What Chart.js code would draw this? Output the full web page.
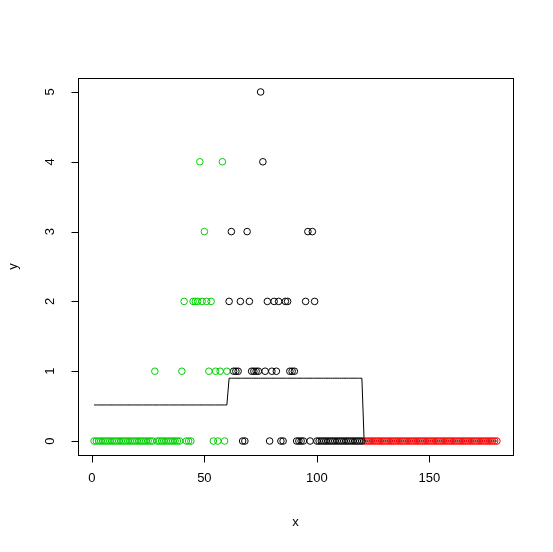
<!DOCTYPE html>
<html>
<head>
<meta charset="utf-8">
<script src="https://cdn.jsdelivr.net/npm/chart.js@4.4.1/dist/chart.umd.min.js"></script>
<style>
  body { margin: 0; background: #fff; }
  #wrap { width: 553px; height: 552px; }
</style>
</head>
<body>
<div id="wrap"><canvas id="plot"></canvas></div>
<script>
// counts per x, x = 1..180, three groups of 60
var greenY = [0,0,0,0,0,0,0,0,0,0, 0,0,0,0,0,0,0,0,0,0, 0,0,0,0,0,0,0,1,0,0,
              0,0,0,0,0,0,0,0,0,1, 2,0,0,0,2,2,2,4,2,3, 2,1,2,0,1,0,1,4,0,1];
var blackY = [2,3,1,1,1,2,0,0,3,2, 1,1,1,1,5,4,1,2,0,1, 2,1,2,0,0,2,2,1,1,1,
              0,0,0,0,2,3,0,3,2,0, 0,0,0,0,0,0,0,0,0,0, 0,0,0,0,0,0,0,0,0,0];
var redY   = [0,0,0,0,0,0,0,0,0,0, 0,0,0,0,0,0,0,0,0,0, 0,0,0,0,0,0,0,0,0,0,
              0,0,0,0,0,0,0,0,0,0, 0,0,0,0,0,0,0,0,0,0, 0,0,0,0,0,0,0,0,0,0];
var xTicks = [0, 50, 100, 150];
var yTicks = [0, 1, 2, 3, 4, 5];

function pts(ys, start) {
  return ys.map(function (y, i) { return { x: start + i, y: y }; });
}
function mean(a) {
  return a.reduce(function (s, v) { return s + v; }, 0) / a.length;
}

// fitted line: group means
var fit = [];
[[greenY, 1], [blackY, 61], [redY, 121]].forEach(function (g) {
  var m = mean(g[0]);
  g[0].forEach(function (_, i) { fit.push({ x: g[1] + i, y: m }); });
});

var font = '13px "Liberation Sans", Arial, sans-serif';

var rAxes = {
  id: 'rAxes',
  afterDraw: function (chart) {
    var c = chart.ctx, a = chart.chartArea;
    var sx = chart.scales.x, sy = chart.scales.y;
    c.save();
    c.strokeStyle = '#000';
    c.fillStyle = '#000';
    c.lineWidth = 1;
    c.strokeRect(Math.round(a.left) + 0.5, Math.round(a.top) + 0.5,
                 Math.round(a.right - a.left), Math.round(a.bottom - a.top));
    c.font = font;

    // x axis
    var yb = Math.round(a.bottom) + 0.5;
    c.beginPath();
    c.moveTo(sx.getPixelForValue(xTicks[0]), yb);
    c.lineTo(sx.getPixelForValue(xTicks[xTicks.length - 1]), yb);
    xTicks.forEach(function (t) {
      var p = Math.round(sx.getPixelForValue(t)) + 0.5;
      c.moveTo(p, yb);
      c.lineTo(p, yb + 7);
    });
    c.stroke();
    c.textAlign = 'center';
    c.textBaseline = 'middle';
    xTicks.forEach(function (t) {
      c.fillText(String(t), sx.getPixelForValue(t), 478);
    });
    c.fillText('x', (a.left + a.right) / 2, 522);

    // y axis
    var xl = Math.round(a.left) + 0.5;
    c.beginPath();
    c.moveTo(xl, sy.getPixelForValue(yTicks[0]));
    c.lineTo(xl, sy.getPixelForValue(yTicks[yTicks.length - 1]));
    yTicks.forEach(function (t) {
      var p = Math.round(sy.getPixelForValue(t)) + 0.5;
      c.moveTo(xl, p);
      c.lineTo(xl - 7, p);
    });
    c.stroke();
    yTicks.forEach(function (t) {
      c.save();
      c.translate(50, sy.getPixelForValue(t));
      c.rotate(-Math.PI / 2);
      c.fillText(String(t), 0, 0);
      c.restore();
    });
    c.save();
    c.translate(13, (a.top + a.bottom) / 2);
    c.rotate(-Math.PI / 2);
    c.fillText('y', 0, 0);
    c.restore();
    c.restore();
  }
};

function circles(data, color) {
  return {
    type: 'scatter',
    data: data,
    borderColor: color,
    backgroundColor: 'transparent',
    pointStyle: 'circle',
    pointRadius: 3.3,
    pointBorderWidth: 1,
    showLine: false
  };
}

new Chart(document.getElementById('plot'), {
  type: 'scatter',
  data: {
    datasets: [
      circles(pts(greenY, 1), '#00CD00'),
      circles(pts(blackY, 61), '#000000'),
      circles(pts(redY, 121), '#FF0000'),
      {
        type: 'line',
        data: fit,
        borderColor: '#000',
        borderWidth: 1,
        pointRadius: 0,
        fill: false,
        tension: 0
      }
    ]
  },
  options: {
    responsive: true,
    maintainAspectRatio: false,
    animation: false,
    events: [],
    layout: { padding: { left: 78, right: 40, top: 78, bottom: 97 } },
    plugins: { legend: { display: false }, tooltip: { enabled: false } },
    scales: {
      x: {
        type: 'linear', min: -6.16, max: 187.16,
        grid: { display: false }, border: { display: false },
        ticks: { display: false },
        afterFit: function (s) { s.height = 0; }
      },
      y: {
        type: 'linear', min: -0.2, max: 5.2,
        grid: { display: false }, border: { display: false },
        ticks: { display: false },
        afterFit: function (s) { s.width = 0; }
      }
    }
  },
  plugins: [rAxes]
});
</script>
</body>
</html>
